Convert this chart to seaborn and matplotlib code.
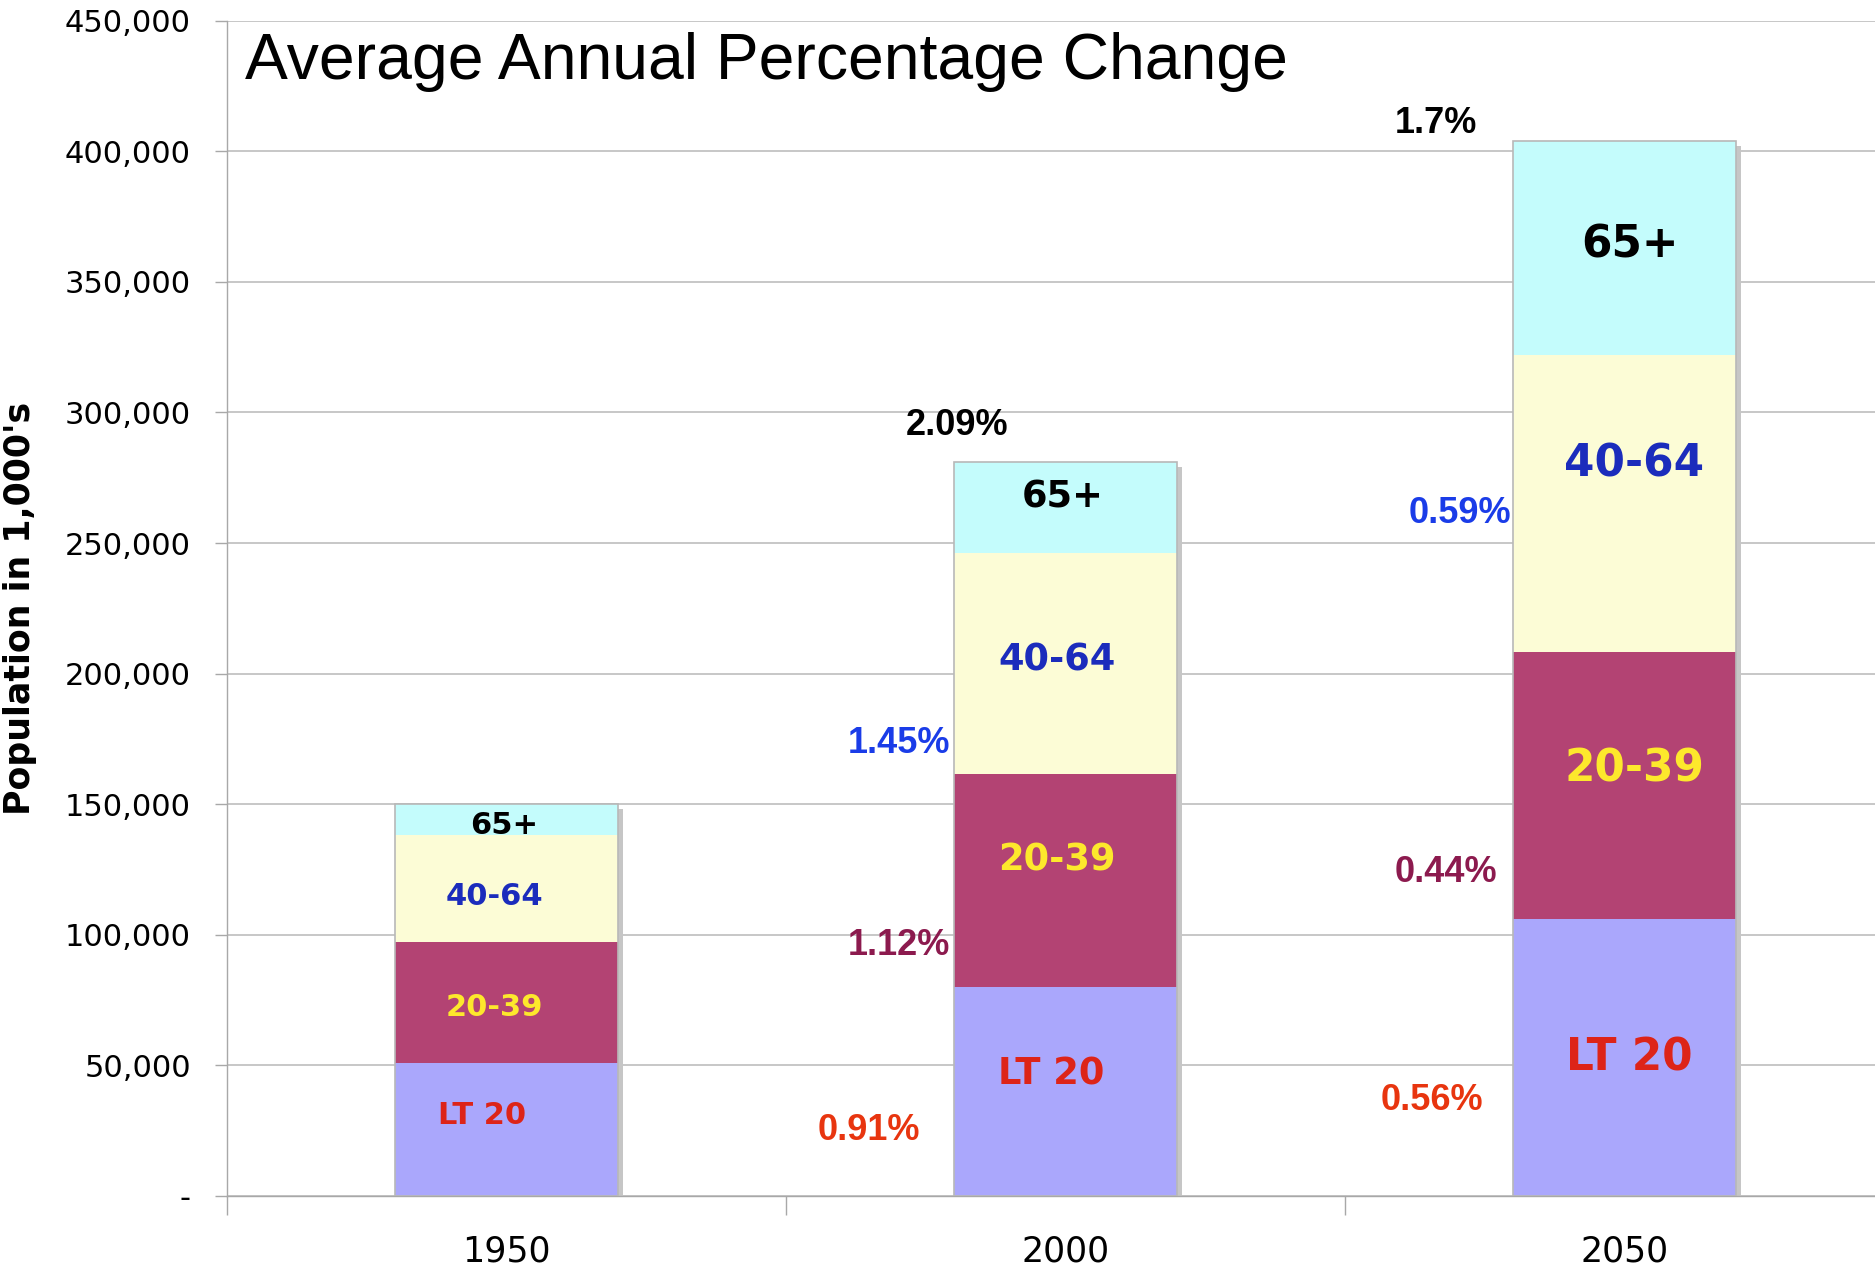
import numpy as np
import matplotlib
matplotlib.use("Agg")
import pandas as pd
import matplotlib.pyplot as plt
import matplotlib.transforms as mtransforms
import seaborn as sns

# population in 1,000's
years = ["1950", "2000", "2050"]
groups = ["LT 20", "20-39", "40-64", "65+"]
lt20 = [50800, 80100, 106200]
age20_39 = [46300, 81500, 102100]
age40_64 = [41200, 84700, 113600]
age65 = [11900, 34800, 82000]

# average annual percentage change annotations
pct_text = ["2.09%", "1.7%", "1.45%", "1.12%", "0.91%", "0.59%", "0.44%", "0.56%"]
pct_kind = ["total", "total", "40-64", "20-39", "LT 20", "40-64", "20-39", "LT 20"]
pct_x = [0.806, 1.663, 0.702, 0.702, 0.649, 1.706, 1.681, 1.656]
pct_y = [295200, 410800, 173400, 96100, 24900, 261500, 124000, 36400]

fill_colors = {"LT 20": "#aaa7fc", "20-39": "#b34373", "40-64": "#fcfcd6", "65+": "#c4fcfc"}
text_colors = {"LT 20": "#dd2418", "20-39": "#fde82c", "40-64": "#1b2cbc", "65+": "#000000"}
pct_colors = {"total": "#000000", "40-64": "#1a3ce8", "20-39": "#8c1a4e", "LT 20": "#e8350f"}

# label placement inside the bars (data y, x offset) and font size per year
label_y = {
    "1950": [31000, 72000, 114500, 142000],
    "2000": [46700, 128600, 205200, 267600],
    "2050": [52800, 163500, 280200, 364100],
}
label_dx = {
    "1950": [-0.043, -0.021, -0.021, -0.004],
    "2000": [-0.025, -0.016, -0.016, -0.005],
    "2050": [0.009, 0.018, 0.018, 0.009],
}
label_size = {"1950": 22, "2000": 26.5, "2050": 31.5}

df = pd.DataFrame({"year": years, "LT 20": lt20, "20-39": age20_39,
                   "40-64": age40_64, "65+": age65})
cum = df[groups].cumsum(axis=1)
cum["year"] = years

sns.set_style("white")
plt.rcParams["font.family"] = ["DejaVu Sans"]
plt.rcParams["text.color"] = "black"
plt.rcParams["xtick.color"] = "black"
plt.rcParams["ytick.color"] = "black"
plt.rcParams["axes.labelcolor"] = "black"

fig = plt.figure(figsize=(18.75, 12.75), dpi=100)
ax = fig.add_axes([227 / 1875, 79 / 1275, 3 * 559 / 1875, 1175.3 / 1275])

bw = 0.4
# drop shadow
sns.barplot(data=cum, x="year", y="65+", color="#c6c6c6", width=bw,
            saturation=1, ax=ax, zorder=1)
shift = mtransforms.ScaledTranslation(5 / 100, -5 / 100, fig.dpi_scale_trans)
for p in ax.patches:
    p.set_transform(ax.transData + shift)
    p.set_linewidth(0)

# stacked segments, drawn from the top down
for g in groups[::-1]:
    sns.barplot(data=cum, x="year", y=g, color=fill_colors[g], width=bw,
                saturation=1, ax=ax, zorder=2, linewidth=0)
# outline
sns.barplot(data=cum, x="year", y="65+", fill=False, width=bw, ax=ax,
            edgecolor="#b8b8b8", linewidth=1.2, zorder=3)

for i, yr in enumerate(years):
    for j, g in enumerate(groups):
        ax.text(i + label_dx[yr][j], label_y[yr][j], g, ha="center", va="center",
                color=text_colors[g], fontsize=label_size[yr], fontweight="bold",
                zorder=5)

for t, k, x, y in zip(pct_text, pct_kind, pct_x, pct_y):
    ax.text(x, y, t, ha="center", va="center", color=pct_colors[k],
            fontsize=26, fontweight="bold", family=["Liberation Sans"], zorder=5)

ax.text(0.0105, 0.99, "Average Annual Percentage Change", transform=ax.transAxes,
        ha="left", va="top", fontsize=46.3, family=["Liberation Sans"], zorder=5)

ax.set_xlim(-0.5, 2.5)
ax.set_ylim(0, 450000)
yt = np.arange(0, 450001, 50000)
ax.set_yticks(yt)
ax.set_yticklabels(["-"] + ["{:,}".format(v) for v in yt[1:]], fontsize=22)
ax.yaxis.grid(True, color="#b8b8b8", linewidth=1.1)
ax.set_axisbelow(True)
ax.tick_params(axis="y", length=9, width=1, color="#a8a8a8", pad=17, left=True)
ax.set_xticks(range(3))
ax.set_xticklabels(years, fontsize=25)
ax.set_xticks([-0.5, 0.5, 1.5, 2.5], minor=True)
ax.tick_params(axis="x", which="major", length=0, pad=28)
ax.tick_params(axis="x", which="minor", length=14, width=1, color="#a8a8a8", bottom=True)
ax.set_xlabel("")
ax.set_ylabel("Population in 1,000's", fontsize=25, fontweight="bold")
ax.yaxis.set_label_coords(-0.1135, 0.5)
for s in ["top", "right"]:
    ax.spines[s].set_visible(False)
for s in ["left", "bottom"]:
    ax.spines[s].set_color("#a8a8a8")
    ax.spines[s].set_linewidth(1)

fig.savefig("out.png", dpi=100)
